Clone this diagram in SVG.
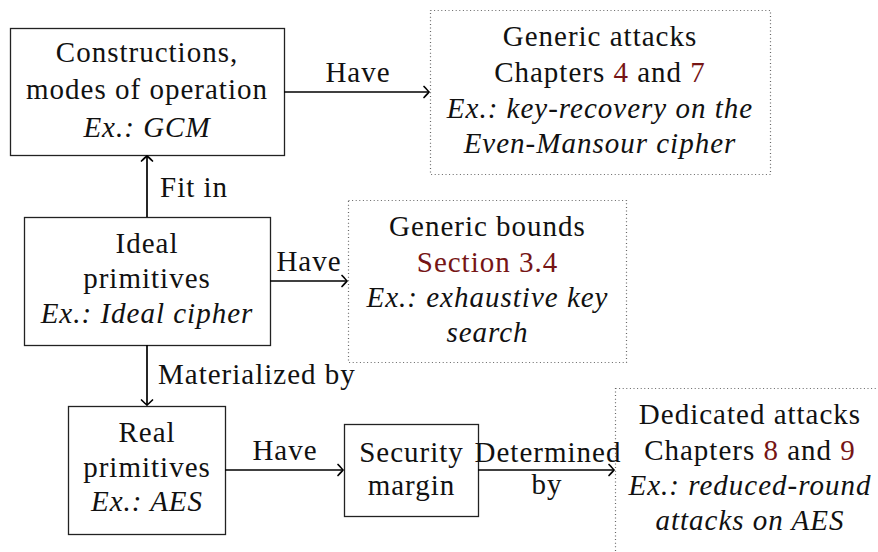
<svg xmlns="http://www.w3.org/2000/svg" width="878" height="552" viewBox="0 0 878 552">
<defs>
<style>
text{font-size:29px;letter-spacing:1px;fill:#111;}
.c{text-anchor:middle;}
.i{font-style:italic;}
.r{fill:#761515;}
.box{fill:#fff;stroke:#222;stroke-width:1.3;}
.dot{fill:#fff;stroke:#666;stroke-width:1.2;stroke-dasharray:1 2.6;}
.edge{stroke:#000;stroke-width:1.7;fill:none;marker-end:url(#ah);}
</style>
<marker id="ah" markerUnits="userSpaceOnUse" markerWidth="14" markerHeight="14" viewBox="-7 -7 14 14" refX="0" refY="0" orient="auto">
<path d="M-5,-5.5 Q-1.2,-1.5 0,0 Q-1.2,1.5 -5,5.5" fill="none" stroke="#000" stroke-width="1.7" stroke-linecap="round"/>
</marker>
</defs>
<rect width="878" height="552" fill="#fff"/>
<g font-family="Liberation Serif, serif">

<g id="constructions">
<rect class="box" x="10.5" y="28.5" width="274" height="127"/>
<text class="c" x="147" y="62">Constructions,</text>
<text class="c" x="147" y="99">modes of operation</text>
<text class="c i" x="147" y="137">Ex.: GCM</text>
</g>

<g id="generic-attacks">
<rect class="dot" x="430.5" y="10.5" width="340" height="164"/>
<text class="c" x="600" y="46">Generic attacks</text>
<text class="c" x="600" y="82">Chapters <tspan class="r">4</tspan> and <tspan class="r">7</tspan></text>
<text class="c i" x="600" y="118">Ex.: key-recovery on the</text>
<text class="c i" x="600" y="153">Even-Mansour cipher</text>
</g>

<g id="ideal">
<rect class="box" x="24.5" y="217.5" width="246" height="128"/>
<text class="c" x="147" y="253">Ideal</text>
<text class="c" x="147" y="288">primitives</text>
<text class="c i" x="147" y="323">Ex.: Ideal cipher</text>
</g>

<g id="generic-bounds">
<rect class="dot" x="348.5" y="200.5" width="278" height="162"/>
<text class="c" x="487.5" y="236">Generic bounds</text>
<text class="c r" x="487.5" y="272">Section 3.4</text>
<text class="c i" x="487.5" y="307">Ex.: exhaustive key</text>
<text class="c i" x="487.5" y="342">search</text>
</g>

<g id="real">
<rect class="box" x="68.5" y="406.5" width="157" height="128"/>
<text class="c" x="147" y="442">Real</text>
<text class="c" x="147" y="477">primitives</text>
<text class="c i" x="147" y="511">Ex.: AES</text>
</g>

<g id="security">
<rect class="box" x="344.5" y="424.5" width="134" height="92"/>
<text class="c" x="411.5" y="462">Security</text>
<text class="c" x="411.5" y="495">margin</text>
</g>

<g id="dedicated">
<rect class="dot" x="615.5" y="388.5" width="272" height="180"/>
<text class="c" x="750" y="424">Dedicated attacks</text>
<text class="c" x="750" y="460">Chapters <tspan class="r">8</tspan> and <tspan class="r">9</tspan></text>
<text class="c i" x="750" y="495">Ex.: reduced-round</text>
<text class="c i" x="750" y="530">attacks on AES</text>
</g>

<g id="edges">
<line class="edge" x1="284" y1="92" x2="429" y2="92"/>
<line class="edge" x1="147" y1="217" x2="147" y2="156"/>
<line class="edge" x1="270" y1="281" x2="347" y2="281"/>
<line class="edge" x1="147" y1="345" x2="147" y2="405"/>
<line class="edge" x1="225" y1="470" x2="343" y2="470"/>
<line class="edge" x1="478" y1="470" x2="614" y2="470"/>
<text class="c" x="358" y="82">Have</text>
<text x="160" y="197">Fit in</text>
<text class="c" x="309" y="271">Have</text>
<text x="158" y="384">Materialized by</text>
<text class="c" x="285" y="460">Have</text>
<text class="c" x="548" y="462">Determined</text>
<text class="c" x="547" y="494">by</text>
</g>
</g>
</svg>
